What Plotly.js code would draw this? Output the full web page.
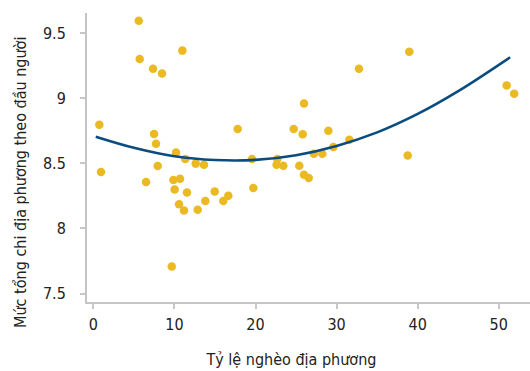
<!DOCTYPE html>
<html>
<head>
<meta charset="utf-8">
<script src="https://cdn.plot.ly/plotly-3.0.1.min.js"></script>
<style>
html,body{margin:0;padding:0;background:#fff;}
#chart{width:530px;height:371px;}
#chart text{font-stretch:condensed !important;}
</style>
</head>
<body>
<div id="chart"></div>
<script>
// Scatter points: local poverty rate (x) vs. local spending per capita (y)
const povertyRate = [5.6, 5.72, 7.36, 8.47, 10.98, 0.74, 7.49, 7.73, 17.8, 10.2,
  11.34, 12.63, 13.65, 7.94, 0.95, 6.5, 9.87, 10.69, 10.03, 11.55,
  14.97, 13.81, 16.65, 16.03, 10.57, 11.18, 12.87, 9.67, 24.71, 25.82,
  25.98, 28.98, 32.76, 38.96, 50.97, 51.9, 31.57, 29.6, 19.57, 22.69,
  22.6, 23.43, 25.4, 27.2, 28.24, 25.98, 26.56, 19.73, 38.77];
const spendingPerCapita = [9.596, 9.302, 9.227, 9.191, 9.366, 8.797, 8.726, 8.651, 8.764, 8.584,
  8.534, 8.498, 8.49, 8.48, 8.434, 8.357, 8.372, 8.382, 8.30, 8.277,
  8.283, 8.211, 8.252, 8.211, 8.185, 8.137, 8.144, 7.707, 8.764, 8.723,
  8.959, 8.751, 9.227, 9.358, 9.099, 9.035, 8.682, 8.626, 8.534, 8.534,
  8.49, 8.482, 8.482, 8.574, 8.574, 8.413, 8.388, 8.311, 8.561];
// Fitted curve
const fitX = [0.3, 5, 10, 15, 20, 25, 30, 35, 40, 45, 51.4];
const fitY = [8.705, 8.62, 8.555, 8.526, 8.527, 8.563, 8.634, 8.738, 8.88, 9.055, 9.315];
// Tick labels
const xTicks = [0, 10, 20, 30, 40, 50];
const yTicks = [7.5, 8, 8.5, 9, 9.5];
const xTitle = "Tỷ lệ nghèo địa phương";
const yTitle = "Mức tổng chi địa phương theo đầu người";

const FONT = '"DejaVu Sans", sans-serif';

const traces = [
  {
    x: povertyRate, y: spendingPerCapita, type: 'scatter', mode: 'markers',
    marker: {color: '#EBBA22', size: 8.5, line: {width: 0}},
    hoverinfo: 'none', showlegend: false
  },
  {
    x: fitX, y: fitY, type: 'scatter', mode: 'lines',
    line: {color: '#0B4C7F', width: 2.6, shape: 'spline', smoothing: 1},
    hoverinfo: 'none', showlegend: false
  }
];

const axisCommon = {
  showgrid: false, zeroline: false, showline: true,
  linecolor: '#c4c4c4', linewidth: 2,
  ticks: 'outside', ticklen: 5, tickwidth: 2, tickcolor: '#c8c8c8',
  tickfont: {family: FONT, size: 16, color: '#222'},
  fixedrange: true
};

const layout = {
  width: 530, height: 371,
  margin: {l: 87, r: 0, t: 13, b: 69},
  paper_bgcolor: '#fff', plot_bgcolor: '#fff',
  font: {family: FONT, color: '#222'},
  xaxis: Object.assign({}, axisCommon, {
    range: [-0.78, 53.85], tickmode: 'array', tickvals: xTicks,
    ticktext: xTicks.map(String), ticklabelstandoff: 2
  }),
  yaxis: Object.assign({}, axisCommon, {
    range: [7.435, 9.655], tickmode: 'array', tickvals: yTicks,
    ticktext: yTicks.map(String), ticklabelstandoff: 11
  }),
  annotations: [
    {text: xTitle, xref: 'paper', yref: 'paper', x: 0.46, y: -0.2,
     xanchor: 'center', yanchor: 'middle', showarrow: false,
     font: {family: FONT, size: 16, color: '#222'}},
    {text: yTitle, xref: 'paper', yref: 'paper', x: -0.151, y: 0.415,
     xanchor: 'center', yanchor: 'middle', showarrow: false, textangle: -90,
     font: {family: FONT, size: 16, color: '#222'}}
  ]
};

Plotly.newPlot('chart', traces, layout, {staticPlot: true, displayModeBar: false});
</script>
</body>
</html>
